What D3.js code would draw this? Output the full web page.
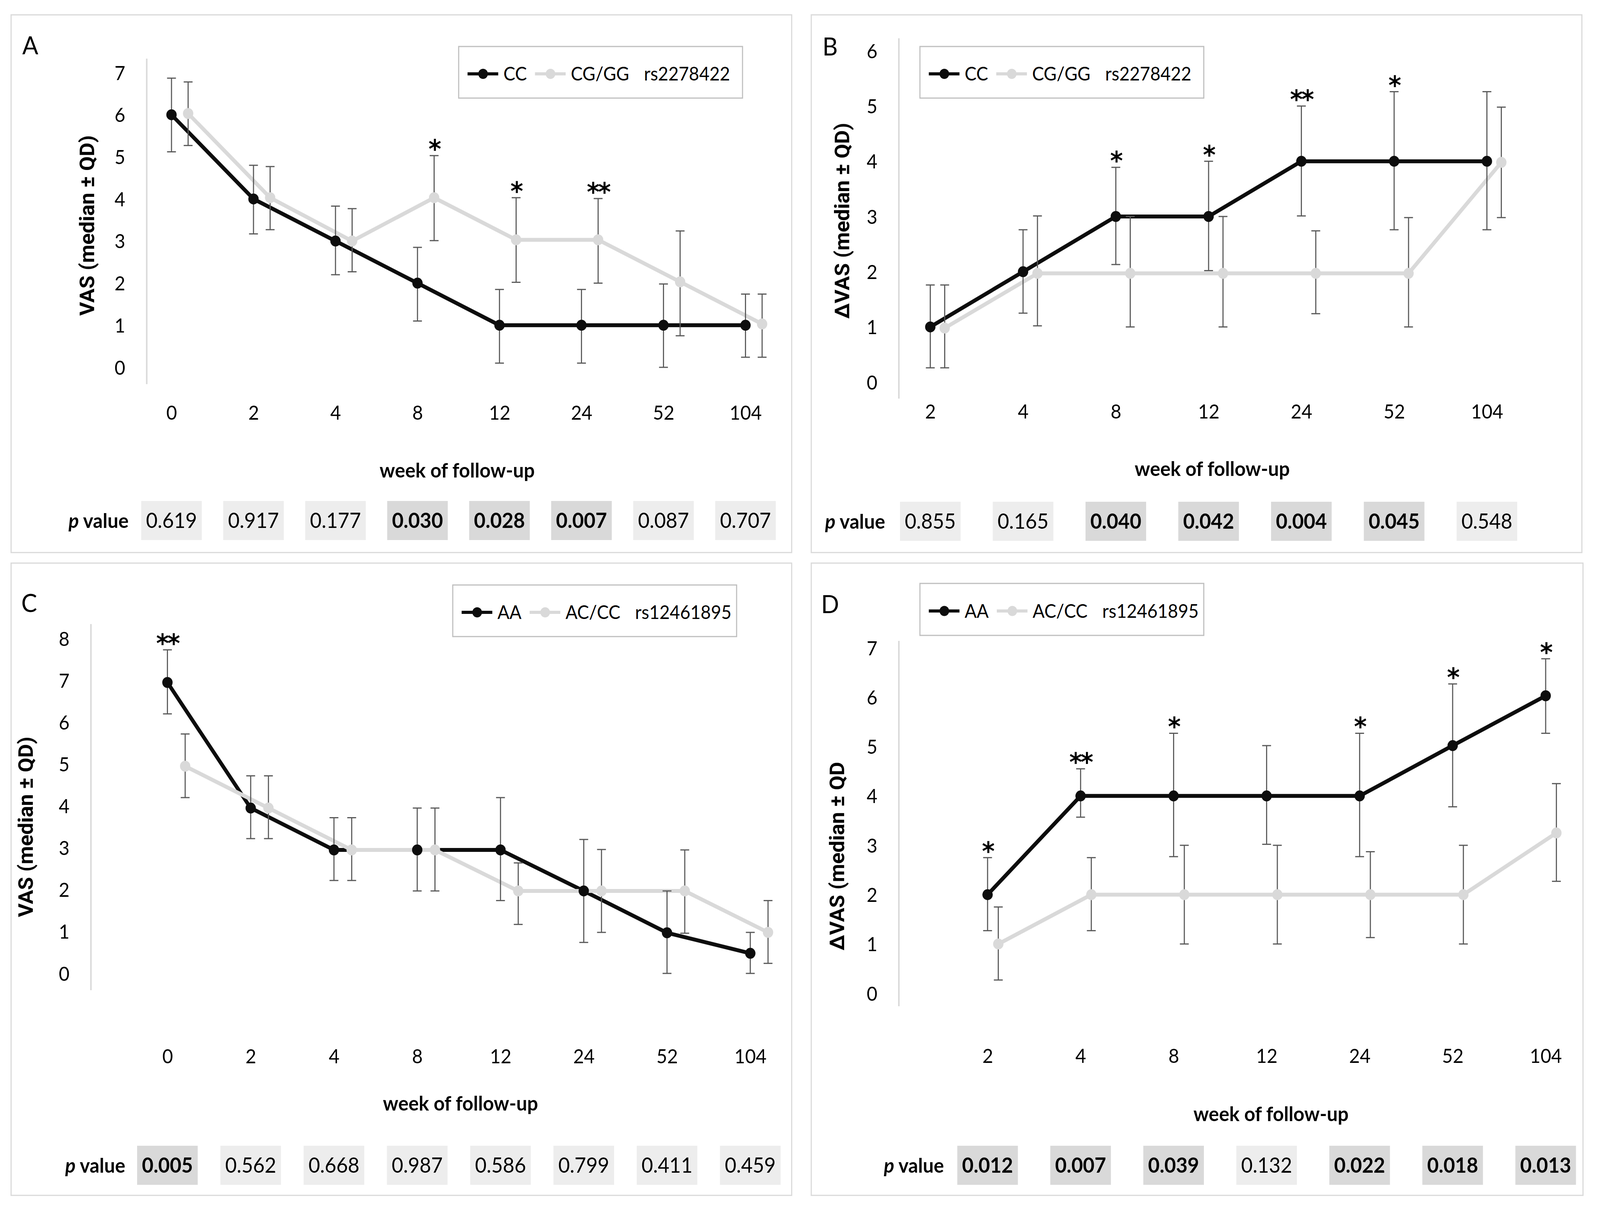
<!DOCTYPE html>
<html>
<head>
<meta charset="utf-8">
<script src="https://cdn.jsdelivr.net/npm/d3@7"></script>
<style>
  html, body { margin: 0; padding: 0; background: #fff; overflow: hidden; }
  svg { display: block; }
  text { font-family: Lato, "Open Sans", sans-serif; fill: #000; }
</style>
</head>
<body>
<script>
// ---- data ----

// A: rs2278422, VAS
var weeksA = ["0", "2", "4", "8", "12", "24", "52", "104"];
var ccA   = [6, 4, 3, 2, 1, 1, 1, 1];
var ccLoA = [5.12, 3.17, 2.2, 1.1, 0.1, 0.1, 0, 0.24];
var ccHiA = [6.87, 4.8, 3.83, 2.85, 1.85, 1.85, 1.98, 1.74];
var cgA   = [6.03, 4.03, 3, 4.03, 3.03, 3.03, 2.03, 1.03];
var cgLoA = [5.27, 3.27, 2.27, 3.01, 2.02, 2, 0.75, 0.24];
var cgHiA = [6.78, 4.77, 3.77, 5.03, 4.03, 4.01, 3.24, 1.74];
var pA    = ["0.619", "0.917", "0.177", "0.030", "0.028", "0.007", "0.087", "0.707"];

// B: rs2278422, delta VAS
var weeksB = ["2", "4", "8", "12", "24", "52", "104"];
var ccB   = [1, 2, 3, 3, 4, 4, 4];
var ccLoB = [0.26, 1.25, 2.13, 2.02, 3.01, 2.76, 2.76];
var ccHiB = [1.76, 2.76, 3.89, 4, 5, 5.26, 5.26];
var cgB   = [0.98, 1.97, 1.97, 1.97, 1.97, 1.97, 3.98];
var cgLoB = [0.26, 1.02, 1, 1, 1.24, 1, 2.98];
var cgHiB = [1.76, 3.01, 3, 3, 2.74, 2.98, 4.98];
var pB    = ["0.855", "0.165", "0.040", "0.042", "0.004", "0.045", "0.548"];

// C: rs12461895, VAS
var weeksC = ["0", "2", "4", "8", "12", "24", "52", "104"];
var aaC   = [6.95, 3.95, 2.95, 2.95, 2.95, 1.97, 0.97, 0.48];
var aaLoC = [6.2, 3.22, 2.22, 1.97, 1.74, 0.74, 0, 0];
var aaHiC = [7.73, 4.72, 3.72, 3.95, 4.2, 3.2, 1.97, 0.98];
var acC   = [4.95, 3.95, 2.95, 2.95, 1.97, 1.97, 1.97, 0.98];
var acLoC = [4.2, 3.22, 2.22, 1.97, 1.17, 0.98, 0.96, 0.24];
var acHiC = [5.72, 4.72, 3.72, 3.95, 2.64, 2.96, 2.95, 1.74];
var pC    = ["0.005", "0.562", "0.668", "0.987", "0.586", "0.799", "0.411", "0.459"];

// D: rs12461895, delta VAS
var weeksD = ["2", "4", "8", "12", "24", "52", "104"];
var aaD   = [2, 4, 4, 4, 4, 5.02, 6.03];
var aaLoD = [1.27, 3.57, 2.77, 3.02, 2.77, 3.78, 5.27];
var aaHiD = [2.75, 4.55, 5.27, 5.02, 5.27, 6.27, 6.78];
var acD   = [1, 2, 2, 2, 2, 2, 3.25];
var acLoD = [0.27, 1.27, 1, 1, 1.13, 1, 2.27];
var acHiD = [1.75, 2.75, 3, 3, 2.87, 3, 4.25];
var pD    = ["0.012", "0.007", "0.039", "0.132", "0.022", "0.018", "0.013"];

// ---- drawing ----

var W = 4329, H = 3099;
var BLACK = "#0d0d0d", GREY = "#d9d9d9", BAR = "#595959";

// viewBox so the whole figure fills whatever the viewport really is
var svg = d3.select("body").append("svg")
    .attr("viewBox", "0 0 " + W + " " + H)
    .attr("preserveAspectRatio", "none")
    .style("width", "100vw")
    .style("height", "100vh");

svg.append("rect").attr("width", W).attr("height", H).attr("fill", "#fff");

var panels = [
    {
        letter: "A", weeks: weeksA, p: pA, yMax: 7, yTitle: "VAS (median \u00b1 QD)",
        names: ["CC", "CG/GG"], snp: "rs2278422", starOn: 1,
        series: [[ccA, ccLoA, ccHiA], [cgA, cgLoA, cgHiA]],
        box: [30, 38, 2112, 1376], label: [82, 116],
        axisX: 397, axisTop: 150, axisBottom: 983, yTop: 186, yBottom: 940,
        xFirst: 464, xLast: 2017, dodge: 45, tickY: 1056,
        title: [1237, 1203], yTitlePos: [235, 577],
        legend: [1241, 119, 768, 132], pRowY: 1332, pLabelRight: 348
    },
    {
        letter: "B", weeks: weeksB, p: pB, yMax: 6, yTitle: "\u0394VAS (median \u00b1 QD)",
        names: ["CC", "CG/GG"], snp: "rs2278422", starOn: 0,
        series: [[ccB, ccLoB, ccHiB], [cgB, cgLoB, cgHiB]],
        box: [2195, 38, 2085, 1376], label: [2246, 119],
        axisX: 2432, axisTop: 98, axisBottom: 1020, yTop: 130, yBottom: 978,
        xFirst: 2517, xLast: 4023, dodge: 39, tickY: 1053,
        title: [3280, 1199], yTitlePos: [2278, 565],
        legend: [2489, 119, 768, 132], pRowY: 1334, pLabelRight: 2395
    },
    {
        letter: "C", weeks: weeksC, p: pC, yMax: 8, yTitle: "VAS (median \u00b1 QD)",
        names: ["AA", "AC/CC"], snp: "rs12461895", starOn: 0,
        series: [[aaC, aaLoC, aaHiC], [acC, acLoC, acHiC]],
        box: [30, 1441, 2112, 1618], label: [79, 1543],
        axisX: 246, axisTop: 1597, axisBottom: 2534, yTop: 1634, yBottom: 2491,
        xFirst: 453, xLast: 2030, dodge: 48, tickY: 2703,
        title: [1246, 2823], yTitlePos: [69, 2116],
        legend: [1225, 1497, 768, 132], pRowY: 2982, pLabelRight: 339
    },
    {
        letter: "D", weeks: weeksD, p: pD, yMax: 7, yTitle: "\u0394VAS (median \u00b1 QD",
        names: ["AA", "AC/CC"], snp: "rs12461895", starOn: 0,
        series: [[aaD, aaLoD, aaHiD], [acD, acLoD, acHiD]],
        box: [2195, 1441, 2088, 1618], label: [2246, 1546],
        axisX: 2432, axisTop: 1640, axisBottom: 2575, yTop: 1658, yBottom: 2542,
        xFirst: 2672, xLast: 4182, dodge: 29, tickY: 2702,
        title: [3439, 2850], yTitlePos: [2264, 2191],
        legend: [2489, 1493, 768, 133], pRowY: 2982, pLabelRight: 2554
    }
];

panels.forEach(drawPanel);

function drawPanel(cfg) {
    var g = svg.append("g");
    var colors = [BLACK, GREY];

    g.append("rect")
        .attr("x", cfg.box[0]).attr("y", cfg.box[1])
        .attr("width", cfg.box[2]).attr("height", cfg.box[3])
        .attr("fill", "#fff")
        .attr("stroke", "#d9d9d9")
        .attr("stroke-width", 3);

    g.append("text")
        .attr("x", cfg.label[0]).attr("y", cfg.label[1])
        .attr("dy", "0.36em")
        .attr("text-anchor", "middle")
        .style("font-size", "64px")
        .text(cfg.letter);

    var x = d3.scalePoint().domain(cfg.weeks).range([cfg.xFirst, cfg.xLast]);
    var y = d3.scaleLinear().domain([0, cfg.yMax]).range([cfg.yBottom, cfg.yTop]);

    // value axis line (light grey, Excel style)
    g.append("line")
        .attr("x1", cfg.axisX).attr("x2", cfg.axisX)
        .attr("y1", cfg.axisTop).attr("y2", cfg.axisBottom)
        .attr("stroke", "#d9d9d9")
        .attr("stroke-width", 4);

    var yAxis = g.append("g")
        .attr("transform", "translate(" + cfg.axisX + ",0)")
        .call(d3.axisLeft(y)
            .tickValues(d3.range(0, cfg.yMax + 1))
            .tickFormat(d3.format("d"))
            .tickSize(0)
            .tickPadding(58));
    yAxis.select(".domain").remove();
    yAxis.selectAll("text")
        .attr("dy", "0.36em")
        .style("font-size", "50px")
        .style("font-family", "Lato, sans-serif")
        .attr("fill", "#000");

    var xAxis = g.append("g")
        .attr("transform", "translate(0," + cfg.tickY + ")")
        .call(d3.axisBottom(x).tickSize(0).tickPadding(0));
    xAxis.select(".domain").remove();
    xAxis.selectAll("text")
        .attr("y", 0)
        .attr("dy", "0.36em")
        .style("font-size", "50px")
        .style("font-family", "Lato, sans-serif")
        .attr("fill", "#000");

    g.append("text")
        .attr("x", cfg.title[0]).attr("y", cfg.title[1])
        .attr("dy", "0.36em")
        .attr("text-anchor", "middle")
        .style("font-size", "52px")
        .style("font-weight", "bold")
        .text("week of follow-up");

    g.append("text")
        .attr("transform", "translate(" + cfg.yTitlePos[0] + "," + cfg.yTitlePos[1] + ")rotate(-90)")
        .attr("dy", "0.36em")
        .attr("text-anchor", "middle")
        .style("font-family", "Roboto, sans-serif")
        .style("font-size", "54px")
        .style("font-weight", "bold")
        .text(cfg.yTitle);

    // lines first, then error bars, then markers
    cfg.series.forEach(function (s, k) {
        var dx = k * cfg.dodge;
        var line = d3.line()
            .x(function (d, i) { return x(cfg.weeks[i]) + dx; })
            .y(function (d) { return y(d); });
        g.append("path")
            .datum(s[0])
            .attr("d", line)
            .attr("fill", "none")
            .attr("stroke", colors[k])
            .attr("stroke-width", 10)
            .attr("stroke-linejoin", "round");
    });

    cfg.series.forEach(function (s, k) {
        var dx = k * cfg.dodge;
        var bars = g.append("g")
            .attr("stroke", BAR)
            .attr("stroke-width", 3);
        cfg.weeks.forEach(function (w, i) {
            var cx = x(w) + dx;
            bars.append("line")
                .attr("x1", cx).attr("x2", cx)
                .attr("y1", y(s[1][i])).attr("y2", y(s[2][i]));
            [s[1][i], s[2][i]].forEach(function (v) {
                bars.append("line")
                    .attr("x1", cx - 12).attr("x2", cx + 12)
                    .attr("y1", y(v)).attr("y2", y(v));
            });
        });
    });

    cfg.series.forEach(function (s, k) {
        var dx = k * cfg.dodge;
        g.selectAll(null)
            .data(s[0])
            .enter().append("circle")
            .attr("cx", function (d, i) { return x(cfg.weeks[i]) + dx; })
            .attr("cy", function (d) { return y(d); })
            .attr("r", 14)
            .attr("fill", colors[k]);
    });

    // significance stars over the upper series
    var starSeries = cfg.series[cfg.starOn];
    cfg.p.forEach(function (pv, i) {
        var v = parseFloat(pv);
        if (v >= 0.05) return;
        g.append("text")
            .attr("x", x(cfg.weeks[i]) + cfg.starOn * cfg.dodge)
            .attr("y", y(starSeries[2][i]) + 6)
            .attr("text-anchor", "middle")
            .style("font-family", "'DejaVu Sans', sans-serif")
            .style("font-size", "66px")
            .style("font-weight", "bold")
            .style("letter-spacing", "-4px")
            .text(v < 0.01 ? "**" : "*");
    });

    // legend
    var lg = g.append("g").attr("transform", "translate(" + cfg.legend[0] + "," + cfg.legend[1] + ")");
    lg.append("rect")
        .attr("width", cfg.legend[2]).attr("height", cfg.legend[3])
        .attr("fill", "#fff")
        .attr("stroke", "#bfbfbf")
        .attr("stroke-width", 3);
    var ly = cfg.legend[3] / 2 + 4;
    var lx = 24;
    cfg.names.forEach(function (name, k) {
        lg.append("line")
            .attr("x1", lx).attr("x2", lx + 83)
            .attr("y1", ly).attr("y2", ly)
            .attr("stroke", colors[k])
            .attr("stroke-width", 8);
        lg.append("circle")
            .attr("cx", lx + 42).attr("cy", ly)
            .attr("r", 13)
            .attr("fill", colors[k]);
        lx += 83 + 14;
        var t = lg.append("text")
            .attr("x", lx).attr("y", ly)
            .attr("dy", "0.36em")
            .style("font-size", "48px")
            .text(name);
        lx += t.node().getComputedTextLength() + 22;
    });
    lg.append("text")
        .attr("x", lx + 18).attr("y", ly)
        .attr("dy", "0.36em")
        .style("font-size", "48px")
        .text(cfg.snp);

    // p value row
    var pl = g.append("text")
        .attr("x", cfg.pLabelRight).attr("y", cfg.pRowY)
        .attr("dy", "0.36em")
        .attr("text-anchor", "end")
        .style("font-size", "52px")
        .style("font-weight", "bold");
    pl.append("tspan").style("font-style", "italic").text("p");
    pl.append("tspan").text(" value");

    cfg.p.forEach(function (pv, i) {
        var sig = parseFloat(pv) < 0.05;
        var cx = x(cfg.weeks[i]);
        g.append("rect")
            .attr("x", cx - 82).attr("y", cfg.pRowY - 50)
            .attr("width", 164).attr("height", 100)
            .attr("fill", sig ? "#d9d9d9" : "#ededed");
        g.append("text")
            .attr("x", cx).attr("y", cfg.pRowY)
            .attr("dy", "0.36em")
            .attr("text-anchor", "middle")
            .style("font-size", "54px")
            .style("font-weight", sig ? "bold" : "normal")
            .attr("fill", sig ? "#000" : "#262626")
            .text(pv);
    });
}
</script>
</body>
</html>
